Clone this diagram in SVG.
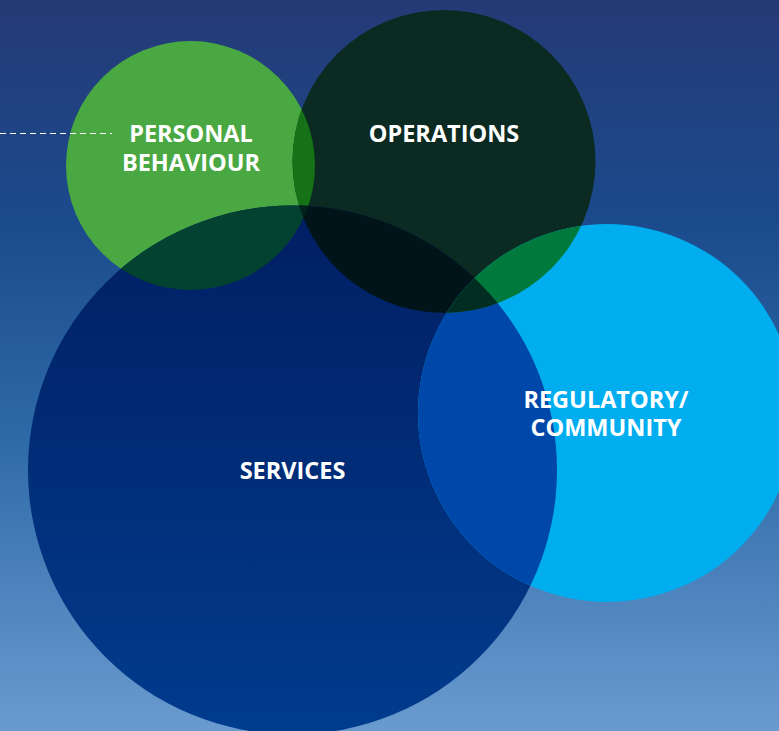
<svg xmlns="http://www.w3.org/2000/svg" width="779" height="731" viewBox="0 0 779 731">
  <defs>
    <linearGradient id="bg" x1="0" y1="0" x2="0" y2="1">
      <stop offset="0" stop-color="#253a76"/>
      <stop offset="0.3" stop-color="#1b4a8c"/>
      <stop offset="0.6" stop-color="#2e6aa8"/>
      <stop offset="1" stop-color="#6a9bcf"/>
    </linearGradient>
    <linearGradient id="svGrad" x1="0" y1="0" x2="0" y2="1">
      <stop offset="0" stop-color="#011e62"/>
      <stop offset="1" stop-color="#013c8e"/>
    </linearGradient>
    <clipPath id="cPB"><circle cx="190.5" cy="165.5" r="124.5"/></clipPath>
    <clipPath id="cOP"><circle cx="444" cy="161.5" r="151.5"/></clipPath>
    <clipPath id="cSV"><circle cx="292.5" cy="470" r="264.5"/></clipPath>
    <clipPath id="cRG"><circle cx="607" cy="413" r="189"/></clipPath>
    <style>
      .lbl { font-family: "Open Sans", "Liberation Sans", sans-serif; font-weight: 700; font-size: 23.5px; fill: #ffffff; text-anchor: middle; }
      .dash { stroke: #ffffff; stroke-width: 1; stroke-dasharray: 6 4; fill: none; }
    </style>
  </defs>

  <rect x="0" y="0" width="779" height="731" fill="url(#bg)"/>

  <g id="personal-behaviour">
    <circle cx="190.5" cy="165.5" r="124.5" fill="#4aa843"/>
    <text class="lbl" x="191" y="142">PERSONAL</text>
    <text class="lbl" x="191" y="171">BEHAVIOUR</text>
  </g>

  <g id="operations">
    <circle cx="444" cy="161.5" r="151.5" fill="#0b2a21"/>
    <g clip-path="url(#cPB)"><circle cx="444" cy="161.5" r="151.5" fill="#167216"/></g>
    <text class="lbl" x="444" y="142">OPERATIONS</text>
  </g>

  <g id="services">
    <circle cx="292.5" cy="470" r="264.5" fill="url(#svGrad)"/>
    <g clip-path="url(#cPB)"><circle cx="292.5" cy="470" r="264.5" fill="#034230"/></g>
    <g clip-path="url(#cOP)"><circle cx="292.5" cy="470" r="264.5" fill="#01141a"/></g>
    <g clip-path="url(#cOP)"><g clip-path="url(#cPB)"><circle cx="292.5" cy="470" r="264.5" fill="#01241a"/></g></g>
    <text class="lbl" x="292.5" y="479">SERVICES</text>
  </g>

  <g id="regulatory-community">
    <circle cx="607" cy="413" r="189" fill="#00aeef"/>
    <g clip-path="url(#cSV)"><circle cx="607" cy="413" r="189" fill="#0047aa"/></g>
    <g clip-path="url(#cOP)"><circle cx="607" cy="413" r="189" fill="#007a3c"/></g>
    <g clip-path="url(#cOP)"><g clip-path="url(#cSV)"><circle cx="607" cy="413" r="189" fill="#022d22"/></g></g>
    <text class="lbl" x="606" y="408">REGULATORY/</text>
    <text class="lbl" x="606" y="436">COMMUNITY</text>
  </g>

  <g id="connectors">
    <line class="dash" x1="0" y1="133.5" x2="112" y2="133.5"/>
  </g>
</svg>
